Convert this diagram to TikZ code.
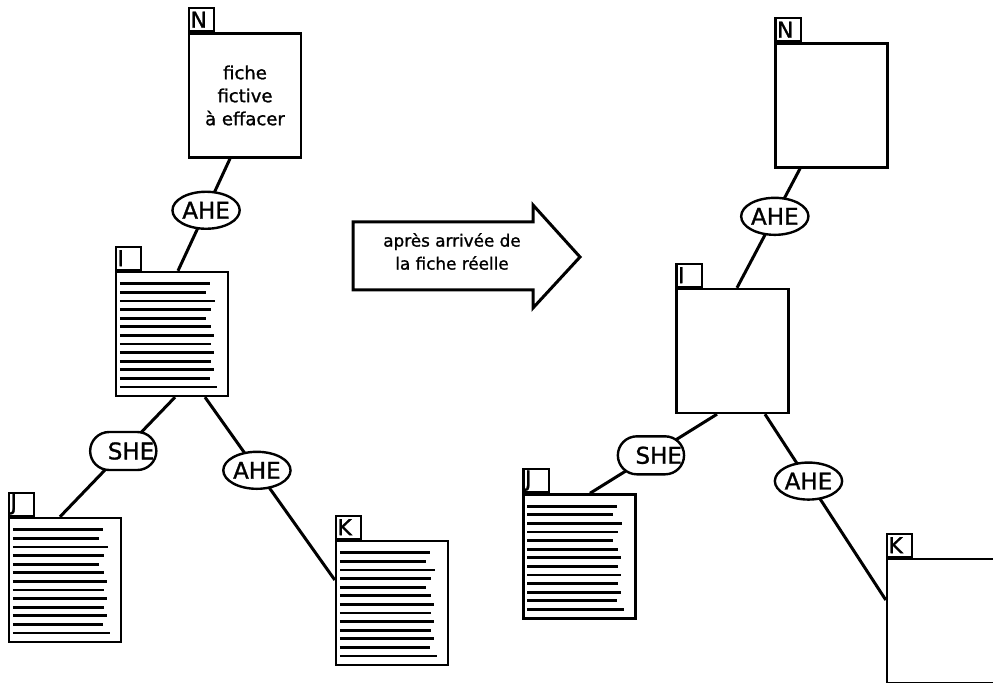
\documentclass[tikz,border=0pt]{standalone}
\usepackage{fontspec}
\setmainfont{DejaVu Sans}[BoldFont={DejaVu Sans}, BoldFeatures={FakeBold=1.2}]
\usepackage{tikz}
\usetikzlibrary{shapes.geometric, shapes.misc}

\begin{document}
\begin{tikzpicture}[
  x=0.5pt, y=-0.5pt,
  font=\fontsize{9}{11.5}\selectfont\bfseries,
  fiche/.style={draw, line width=1.2pt, minimum width=56pt, minimum height=62pt, inner sep=0pt, align=center},
  tab/.style={draw, line width=1.1pt, anchor=south west, minimum height=11.5pt, text width=11pt, inner xsep=0.8pt, inner ysep=0pt, align=left, font=\fontsize{11}{11}\selectfont\bfseries},
  ahe/.style={draw, ellipse, fill=white, line width=1.2pt, minimum width=30pt, minimum height=18.5pt, inner sep=0pt, font=\fontsize{11.5}{11.5}\selectfont\bfseries},
  she/.style={draw, rounded rectangle, fill=white, line width=1.2pt, minimum width=31.5pt, minimum height=19pt, inner xsep=0pt, inner ysep=0pt, text width=31pt, align=right, font=\fontsize{11.5}{11.5}\selectfont\bfseries},
  link/.style={line width=1.5pt},
  ligne/.style={line width=1.4pt},
  fleche/.style={draw, line width=1.5pt, line join=miter},
]
  \useasboundingbox (0,0) rectangle (993,683);
  % fiches before (left)
  \node[fiche] (Nl) at (245,95.5) {fiche\\fictive\\à effacer};
  \node[fiche] (Il) at (172,334)  {};
  \node[fiche] (Jl) at (65,580)   {};
  \node[fiche] (Kl) at (392,603)  {};
  % fiches after (right)
  \node[fiche] (Nr) at (831.5,105.5) {};
  \node[fiche] (Ir) at (732.5,351)   {};
  \node[fiche] (Jr) at (579.5,556.5) {};
  \node[fiche] (Kr) at (943,621)     {};
  % tabs
  \foreach \b/\t in {Nl/N, Il/I, Jl/J, Kl/K, Nr/N, Ir/I, Jr/J, Kr/K}
    \node[tab] (tab\b) at (\b.north west) {\t};
  % filled fiches
  \foreach \b in {Il, Jl, Kl, Jr} {
    \foreach \w [count=\k from 0] in {90,86,95,91,86,91,94,91,94,91,94,90,97}
      \draw[ligne] ([shift={(5,13+\k*8.6)}]\b.north west) -- ++(\w,0);
  }
  % links left
  \draw[link] ([shift={(-15,0)}]Nl.south) -- node[ahe, pos=0.46] (a1) {AHE} ([shift={(6,0)}]Il.north);
  \draw[link] ([shift={(3,0)}]Il.south) -- node[she, pos=0.45] (s1) {SHE} ([shift={(-5,0)}]Jl.north);
  \draw[link] ([shift={(33,0)}]Il.south) -- node[ahe, pos=0.40] (a2) {AHE} ([shift={(0,-23)}]Kl.west);
  % links right
  \draw[link] ([shift={(-31.5,0)}]Nr.south) -- node[ahe, pos=0.40] (a3) {AHE} ([shift={(4.5,0)}]Ir.north);
  \draw[link] ([shift={(-15.5,0)}]Ir.south) -- node[she, pos=0.52] (s2) {SHE} ([shift={(10.5,0)}]Jr.north);
  \draw[link] ([shift={(32.5,0)}]Ir.south) -- node[ahe, pos=0.36] (a4) {AHE} ([shift={(0,-21)}]Kr.west);
  % big arrow
  \draw[fleche] (353,222) -- (533,222) -- (533,205) -- (580,257) -- (533,308) -- (533,290) -- (353,290) -- cycle;
  \node[align=center, font=\fontsize{8.4}{11.5}\selectfont\bfseries] (msg) at (452,251.5) {après arrivée de\\la fiche réelle};
\end{tikzpicture}
\end{document}
